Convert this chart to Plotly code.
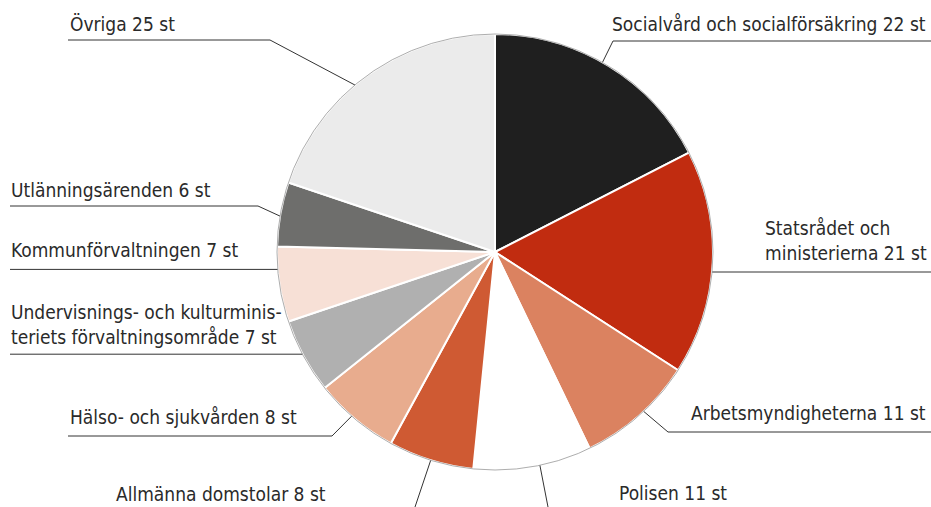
import math
import plotly.graph_objects as go

# ---- data ----
categories = [
    "Socialvård och socialförsäkring",
    "Statsrådet och ministerierna",
    "Arbetsmyndigheterna",
    "Polisen",
    "Allmänna domstolar",
    "Hälso- och sjukvården",
    "Undervisnings- och kulturministeriets förvaltningsområde",
    "Kommunförvaltningen",
    "Utlänningsärenden",
    "Övriga",
]
values = [22, 21, 11, 11, 8, 8, 7, 7, 6, 25]
label_texts = [
    "Socialvård och socialförsäkring 22 st",
    "Statsrådet och<br>ministerierna 21 st",
    "Arbetsmyndigheterna 11 st",
    "Polisen 11 st",
    "Allmänna domstolar 8 st",
    "Hälso- och sjukvården 8 st",
    "Undervisnings- och kulturminis-<br>teriets förvaltningsområde 7 st",
    "Kommunförvaltningen 7 st",
    "Utlänningsärenden 6 st",
    "Övriga 25 st",
]
colors = ["#1f1f1f", "#c12c10", "#db8260", "#ffffff", "#cf5a33",
          "#e8ac8e", "#b0b0b0", "#f7e0d6", "#6e6e6c", "#ebebeb"]

# ---- layout ----
W, H = 931, 507
CX, CY, R = 495, 252, 218
FONT = "DejaVu Sans Condensed, Liberation Sans Narrow, Roboto, Arial"
TXT = "#2a2a2a"
LINE = "#333333"

# leader definitions: fraction within slice, elbow (or None), end point
leaders = [
    dict(f=0.47, elbow=(613, 41), end=(931, 41)),
    dict(f=0.54, elbow=None, end=(931, None)),
    dict(f=0.45, elbow=(668, 432), end=(931, 432)),
    dict(f=0.44, elbow=None, end=(548, 507)),
    dict(f=0.50, elbow=None, end=(415, 507)),
    dict(f=0.55, elbow=(332, 436), end=(68, 436)),
    dict(f=0.53, elbow=None, end=(10, None)),
    dict(f=0.70, elbow=None, end=(10, None)),
    dict(f=0.47, elbow=(258, 206), end=(10, 206)),
    dict(f=0.44, elbow=(270, 40), end=(68, 40)),
]
label_pos = [
    dict(x=928, y=24, xanchor="right", align="right"),
    dict(x=929, y=240, xanchor="right", align="left"),
    dict(x=928, y=413, xanchor="right", align="right"),
    dict(x=617, y=493, xanchor="left", align="left"),
    dict(x=328, y=494, xanchor="right", align="right"),
    dict(x=68, y=417, xanchor="left", align="left"),
    dict(x=9, y=324, xanchor="left", align="left"),
    dict(x=9, y=250, xanchor="left", align="left"),
    dict(x=9, y=190, xanchor="left", align="left"),
    dict(x=68, y=24, xanchor="left", align="left"),
]

fig = go.Figure()
fig.add_trace(go.Pie(
    labels=categories, values=values, sort=False, direction="clockwise",
    rotation=0, textinfo="none", hoverinfo="label+value",
    marker=dict(colors=colors, line=dict(color="white", width=2)),
    domain=dict(x=[(CX - R) / W, (CX + R) / W],
                y=[1 - (CY + R) / H, 1 - (CY - R) / H]),
    showlegend=False,
))

total = sum(values)
shapes = []
cum = 0
for v, ld in zip(values, leaders):
    ang = (cum + ld["f"] * v) / total * 2 * math.pi
    cum += v
    px, py = CX + R * math.sin(ang), CY - R * math.cos(ang)
    pts = [(px, py)]
    if ld["elbow"]:
        pts.append(ld["elbow"])
    ex, ey = ld["end"]
    pts.append((ex, py if ey is None else ey))
    path = "M " + " L ".join(f"{x:.1f},{y:.1f}" for x, y in pts)
    shapes.append(dict(type="path", path=path, xref="x", yref="y",
                       line=dict(color=LINE, width=1)))

shapes.append(dict(type="circle", xref="x", yref="y",
                   x0=CX - R, x1=CX + R, y0=CY - R, y1=CY + R,
                   line=dict(color="#8a8a8a", width=0.7), layer="above"))

annotations = []
for t, p in zip(label_texts, label_pos):
    annotations.append(dict(text=t, x=p["x"], y=p["y"], xref="x", yref="y",
                            xanchor=p["xanchor"], yanchor="middle", align=p["align"],
                            showarrow=False, font=dict(family=FONT, size=19, color=TXT)))

fig.update_layout(
    width=W, height=H, margin=dict(l=0, r=0, t=0, b=0),
    paper_bgcolor="white", plot_bgcolor="white",
    xaxis=dict(range=[0, W], visible=False, fixedrange=True),
    yaxis=dict(range=[H, 0], visible=False, fixedrange=True),
    shapes=shapes, annotations=annotations,
)
fig.write_html("out.html")
